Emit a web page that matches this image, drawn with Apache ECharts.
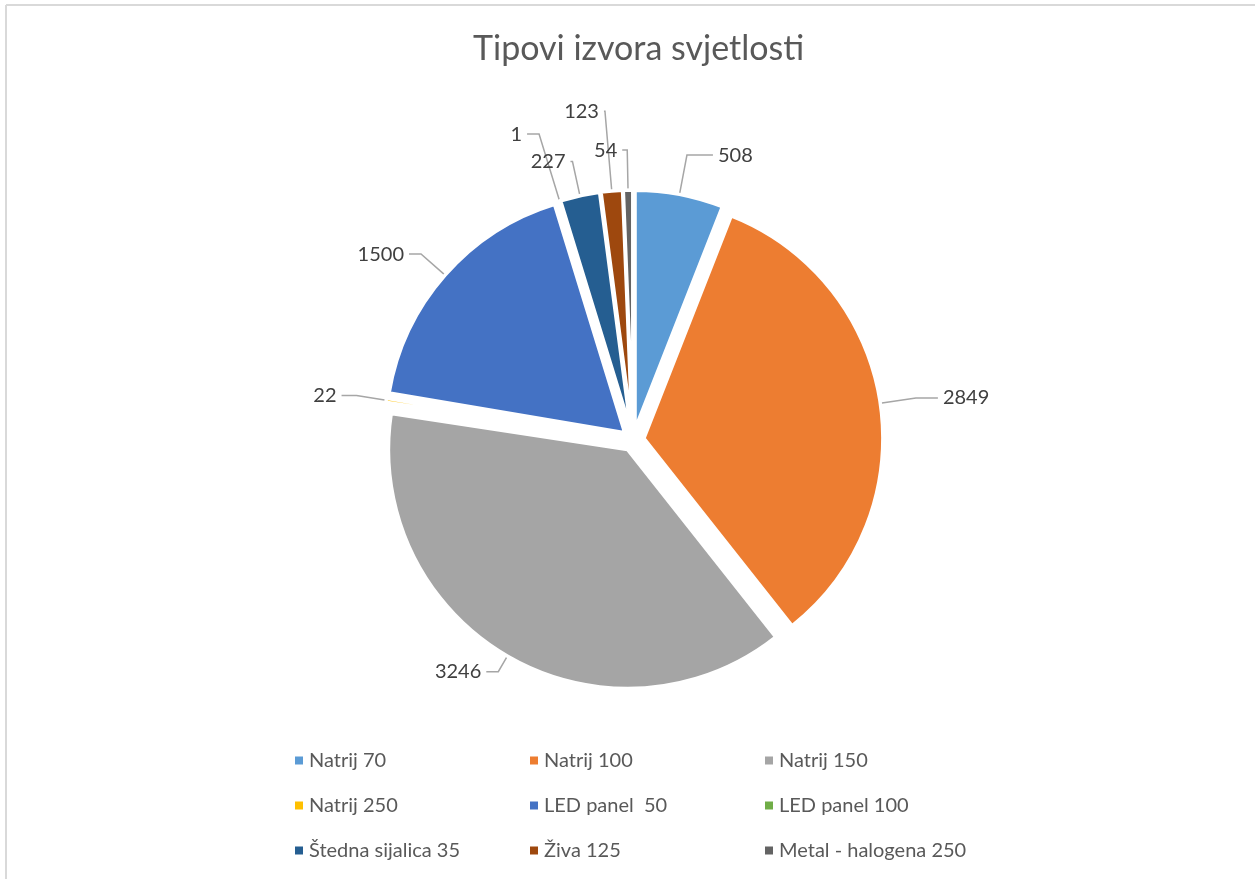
<!DOCTYPE html>
<html>
<head>
<meta charset="utf-8">
<script src="https://cdn.jsdelivr.net/npm/echarts@6/dist/echarts.min.js"></script>
<style>
html,body{margin:0;padding:0;background:#fff;}
#chart{width:1255px;height:879px;}
</style>
</head>
<body>
<div id="chart"></div>
<script>
var titleText = 'Tipovi izvora svjetlosti';
var categories = ['Natrij 70', 'Natrij 100', 'Natrij 150', 'Natrij 250', 'LED panel  50', 'LED panel 100', 'Štedna sijalica 35', 'Živa 125', 'Metal - halogena 250'];
var values = [508, 2849, 3246, 22, 1500, 1, 227, 123, 54];
var colors = ['#5B9BD5', '#ED7D31', '#A5A5A5', '#FFC000', '#4472C4', '#70AD47', '#255E91', '#9E480E', '#636363'];
// per-slice leader line lengths (style only)
var lineLen1 = [40, 36, 18, 30, 32, 70, 35, 80, 40];
var lineLen2 = [26, 22, 12, 15, 12, 12, 2, 1, 5];

var FONT = 'Lato, "Open Sans", sans-serif';

var data = categories.map(function (c, i) {
  return {
    name: c,
    value: values[i],
    selected: true,
    itemStyle: { color: colors[i] },
    labelLine: { length: lineLen1[i], length2: lineLen2[i] }
  };
});

function legendCol(left, idx) {
  return {
    orient: 'vertical',
    left: left,
    top: 745,
    itemWidth: 10,
    itemHeight: 10,
    itemGap: 24,
    icon: 'rect',
    selectedMode: false,
    data: idx.map(function (i) { return categories[i]; }),
    textStyle: { fontFamily: FONT, fontSize: 20, color: '#595959', lineHeight: 21 }
  };
}

var chart = echarts.init(document.getElementById('chart'), null, { renderer: 'canvas' });
chart.setOption({
  backgroundColor: '#ffffff',
  animation: false,
  title: {
    text: titleText,
    left: 468,
    top: 27,
    textStyle: { fontFamily: FONT, fontSize: 34, fontWeight: 'normal', color: '#595959' }
  },
  legend: [
    legendCol(288, [0, 3, 6]),
    legendCol(523, [1, 4, 7]),
    legendCol(758, [2, 5, 8])
  ],
  graphic: [
    { type: 'line', shape: { x1: 6, y1: 5, x2: 1255, y2: 5 }, style: { stroke: '#D9D9D9', lineWidth: 2 }, silent: true },
    { type: 'line', shape: { x1: 6, y1: 5, x2: 6, y2: 879 }, style: { stroke: '#D9D9D9', lineWidth: 2 }, silent: true }
  ],
  series: [{
    type: 'pie',
    center: [633, 440],
    radius: 239,
    startAngle: 90,
    clockwise: true,
    selectedMode: 'multiple',
    selectedOffset: 11,
    avoidLabelOverlap: false,
    emphasis: { disabled: true },
    itemStyle: { borderColor: '#ffffff', borderWidth: 3.5 },
    label: {
      show: true,
      position: 'outside',
      formatter: '{c}',
      fontFamily: FONT,
      fontSize: 20,
      color: '#404040'
    },
    labelLine: {
      show: true,
      lineStyle: { color: '#A6A6A6', width: 1.5 }
    },
    data: data
  }]
});
</script>
</body>
</html>
